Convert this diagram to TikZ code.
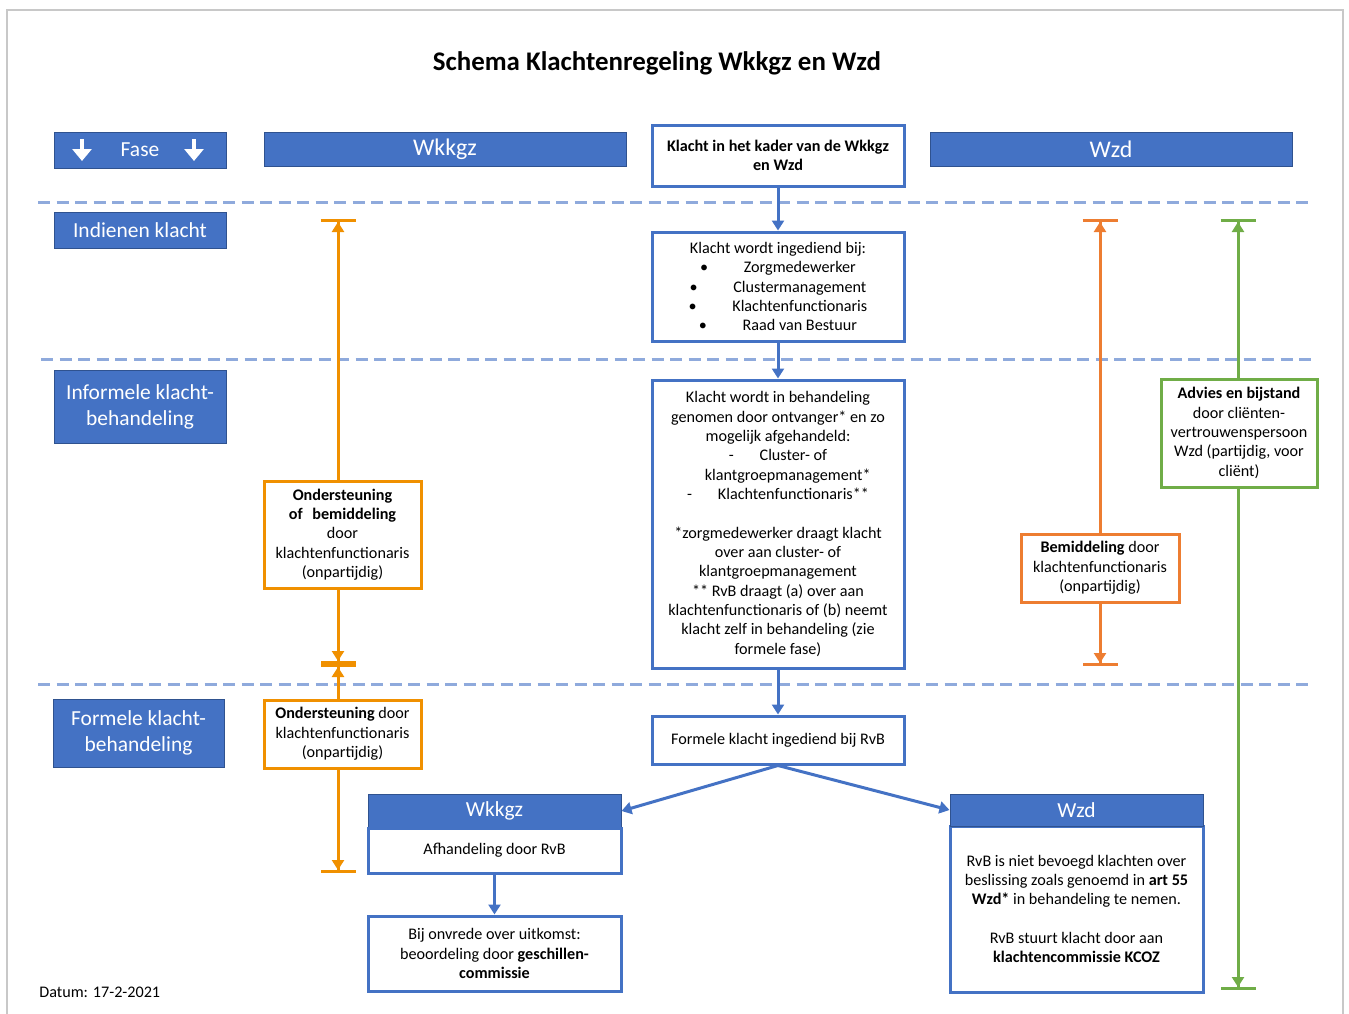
\documentclass[tikz,border=0pt]{standalone}
\usepackage{fontspec}
\setmainfont{Carlito}
\usetikzlibrary{arrows.meta,calc}
\definecolor{offBlue}{HTML}{4472C4}
\definecolor{edgeBlue}{HTML}{2F528F}
\definecolor{dashBlue}{HTML}{8FAADC}
\definecolor{wkOrange}{HTML}{F09000}
\definecolor{wzOrange}{HTML}{ED7D31}
\definecolor{advGreen}{HTML}{70AD47}
\definecolor{frameGray}{HTML}{C8C8C8}
\newlength{\unitpx}
\setlength{\unitpx}{0.2mm}
\tikzset{
  faseblok/.style={fill=offBlue, draw=edgeBlue, line width=0.2mm, text=white, align=center,
    inner sep=0pt, font=\fontsize{12.2}{14.7}\selectfont},
  wetkop/.style={fill=offBlue, draw=edgeBlue, line width=0.2mm, text=white, inner sep=0pt,
    font=\fontsize{13.6}{15}\selectfont},
  stapblok/.style={draw=offBlue, fill=white, line width=0.6mm, align=center, inner sep=0pt,
    font=\fontsize{9.2}{11}\selectfont},
  wkblok/.style={stapblok, draw=wkOrange},
  wzblok/.style={stapblok, draw=wzOrange},
  advblok/.style={stapblok, draw=advGreen},
  faselijn/.style={dashBlue, line width=0.6mm, dash pattern=on 2.4mm off 1.3mm},
  stroom/.style={offBlue, line width=0.6mm, -{Triangle[length=2mm,width=2.4mm]}},
  wkpijl/.style={wkOrange, line width=0.6mm, -{Triangle[length=2mm,width=2.4mm,sep=0pt]Bar[width=7mm]}},
  wzpijl/.style={wkpijl, wzOrange},
  advpijl/.style={wkpijl, advGreen},
  fasepijl/.style={white, line width=0.9mm, -{Triangle[length=2.4mm,width=3.8mm]}}
}

\begin{document}
\begin{tikzpicture}[x=\unitpx, y=-\unitpx]
  \useasboundingbox (0,0) rectangle (1349,1014);
  \draw[frameGray, line width=0.4mm] (7,1014) -- (7,10) -- (1343,10) -- (1343,1014);

  \node[font=\fontsize{15.3}{18}\selectfont\bfseries] (titel) at (657,63) {Schema Klachtenregeling Wkkgz en Wzd};

  \node[faseblok, minimum width=172\unitpx, minimum height=36\unitpx] (fase) at (140,150) {Fase};
  \draw[fasepijl] ($(fase.center)+(-58,-11)$) -- ++(0,22);
  \draw[fasepijl] ($(fase.center)+(54,-11)$) -- ++(0,22);
  \node[wetkop, minimum width=362\unitpx, minimum height=34\unitpx] (wkkgzKop) at (445,149) {Wkkgz};
  \node[wetkop, minimum width=362\unitpx, minimum height=34\unitpx] (wzdKop) at (1111,149) {Wzd};
  \node[stapblok, minimum width=252\unitpx, minimum height=61\unitpx, font=\fontsize{9.2}{11}\selectfont\bfseries]
    (kader) at (778,155.5) {Klacht in het kader van de Wkkgz\\en Wzd};

  \draw[faselijn] (38,202) -- (1314,202);
  \draw[faselijn] (41,359) -- (1314,359);
  \draw[faselijn] (38,684) -- (1314,684);

  \node[faseblok, minimum width=172\unitpx, minimum height=36\unitpx] (indienen) at (140,230) {Indienen klacht};
  \node[faseblok, minimum width=172\unitpx, minimum height=73\unitpx] (informeel) at (140,406.5) {Informele klacht-\\behandeling};
  \node[faseblok, minimum width=171\unitpx, minimum height=68\unitpx] (formeel) at (138.5,733) {Formele klacht-\\behandeling};

  \node[stapblok, minimum width=252\unitpx, minimum height=109\unitpx] (ingediend) at (778,286.5)
    {Klacht wordt ingediend bij:\\
     \textbullet\hspace{2.2em}Zorgmedewerker\\
     \textbullet\hspace{2.2em}Clustermanagement\\
     \textbullet\hspace{2.2em}Klachtenfunctionaris\\
     \textbullet\hspace{2.2em}Raad van Bestuur};
  \node[stapblok, minimum width=252\unitpx, minimum height=288\unitpx] (behandeling) at (778,524)
    {Klacht wordt in behandeling\\
     genomen door ontvanger* en zo\\
     mogelijk afgehandeld:\\
     -\hspace{1.6em}Cluster- of\hspace{2.5em}\\
     \hspace{1.2em}klantgroepmanagement*\\
     -\hspace{1.6em}Klachtenfunctionaris**\\[11pt]
     *zorgmedewerker draagt klacht\\
     over aan cluster- of\\
     klantgroepmanagement\\
     ** RvB draagt (a) over aan\\
     klachtenfunctionaris of (b) neemt\\
     klacht zelf in behandeling (zie\\
     formele fase)};
  \node[stapblok, minimum width=252\unitpx, minimum height=48\unitpx] (formeleKlacht) at (778,740)
    {Formele klacht ingediend bij RvB};

  \node[wetkop, minimum width=253\unitpx, minimum height=34\unitpx, font=\fontsize{12.2}{14}\selectfont]
    (wkkgzSubKop) at (494.5,811) {Wkkgz};
  \node[stapblok, minimum width=253\unitpx, minimum height=45\unitpx] (wkkgzSubBody) at (494.5,850.5)
    {Afhandeling door RvB};
  \node[stapblok, minimum width=253\unitpx, minimum height=75\unitpx] (onvrede) at (494.5,953.5)
    {Bij onvrede over uitkomst:\\beoordeling door \textbf{geschillen-}\\\textbf{commissie}};
  \node[stapblok, minimum width=253\unitpx, minimum height=166\unitpx] (wzdSubBody) at (1076.5,909)
    {RvB is niet bevoegd klachten over\\
     beslissing zoals genoemd in \textbf{art 55}\\
     \textbf{Wzd*} in behandeling te nemen.\\[11pt]
     RvB stuurt klacht door aan\\
     \textbf{klachtencommissie KCOZ}};
  \node[wetkop, minimum width=253\unitpx, minimum height=32\unitpx, font=\fontsize{12.2}{14}\selectfont]
    (wzdSubKop) at (1076.5,810) {Wzd};

  \node[wkblok, minimum width=157\unitpx, minimum height=107\unitpx] (ondBem) at (342.5,534.5)
    {\textbf{Ondersteuning}\\\textbf{of\hspace{0.6em}bemiddeling}\\door\\klachtenfunctionaris\\(onpartijdig)};
  \node[wkblok, minimum width=157\unitpx, minimum height=68\unitpx] (ondersteuning) at (342.5,734)
    {\textbf{Ondersteuning} door\\klachtenfunctionaris\\(onpartijdig)};
  \node[wzblok, minimum width=158\unitpx, minimum height=68\unitpx] (bemiddeling) at (1100,568)
    {\textbf{Bemiddeling} door\\klachtenfunctionaris\\(onpartijdig)};
  \node[advblok, minimum width=156\unitpx, minimum height=108\unitpx] (advies) at (1239,433)
    {\textbf{Advies en bijstand}\\door cliënten-\\vertrouwenspersoon\\Wzd (partijdig, voor\\cliënt)};

  \node[anchor=west, inner sep=0pt, font=\fontsize{9.2}{11}\selectfont] (datum) at (39,992) {Datum: 17-2-2021};

  \coordinate (wkTop) at (338,219);
  \coordinate (wkMid) at (338,664);
  \coordinate (wkBot) at (338,873);
  \coordinate (wzTop) at (1100,219);
  \coordinate (wzBot) at (1100,666);
  \coordinate (advTop) at (1238,219);
  \coordinate (advBot) at (1238,990);

  \path (kader) edge[stroom] (ingediend)
    (ingediend) edge[stroom] (behandeling)
    (behandeling) edge[stroom] (formeleKlacht)
    (formeleKlacht.south) edge[stroom] (wkkgzSubKop.east)
    (formeleKlacht.south) edge[stroom] (wzdSubKop.west)
    (wkkgzSubBody) edge[stroom] (onvrede);

  \path (ondBem.north -| wkTop) edge[wkpijl] (wkTop)
    (ondBem.south -| wkMid) edge[wkpijl] (wkMid)
    (ondersteuning.north -| wkMid) edge[wkpijl] (wkMid)
    (ondersteuning.south -| wkBot) edge[wkpijl] (wkBot)
    (bemiddeling.north) edge[wzpijl] (wzTop)
    (bemiddeling.south) edge[wzpijl] (wzBot)
    (advies.north -| advTop) edge[advpijl] (advTop)
    (advies.south -| advBot) edge[advpijl] (advBot);
\end{tikzpicture}
\end{document}
